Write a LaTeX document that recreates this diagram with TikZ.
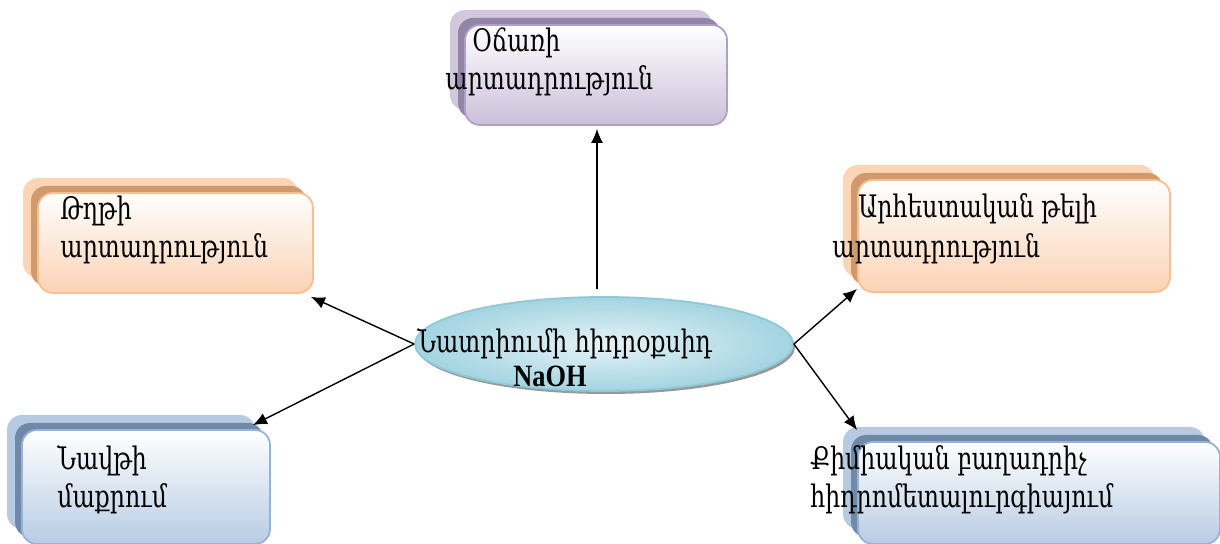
\documentclass[tikz,border=0pt]{standalone}
\usepackage{fontspec}
\setmainfont[FakeStretch=0.76]{DejaVu Serif}
\newfontfamily\formulafont[FakeStretch=0.85]{Liberation Serif}
\usetikzlibrary{shapes.geometric,shadows,arrows.meta,calc}

\definecolor{violetline}{HTML}{B1A0C6}
\definecolor{violetfill}{HTML}{CBBFDA}
\definecolor{violetback}{HTML}{D2C8DE}
\definecolor{violetdark}{HTML}{9385A5}
\definecolor{orangeline}{HTML}{F9BF8F}
\definecolor{orangefill}{HTML}{FBD3B4}
\definecolor{orangeback}{HTML}{FBD5B5}
\definecolor{orangedark}{HTML}{D09A6C}
\definecolor{blueline}{HTML}{95B3D7}
\definecolor{bluefill}{HTML}{B8CCE4}
\definecolor{blueback}{HTML}{B7CAE2}
\definecolor{bluedark}{HTML}{7189A8}
\definecolor{cyanline}{HTML}{8FCAD9}
\definecolor{cyanlight}{HTML}{E6F3F7}
\definecolor{cyandark}{HTML}{A3D4E1}

\begin{document}
\begin{tikzpicture}[x=0.5pt,y=-0.5pt,
  every node/.style={font=\fontsize{15.5}{18}\selectfont},
  box/.style={draw=#1line, line width=0.9pt, rounded corners=7.5pt,
    top color=white, bottom color=#1fill, inner sep=0pt,
    copy shadow={shadow xshift=-7.5pt, shadow yshift=7.5pt, fill=#1back, draw=none},
    copy shadow={shadow xshift=-3.5pt, shadow yshift=3.5pt, fill=#1dark, draw=none}},
  line/.style={anchor=base west, inner sep=0pt},
  link/.style={-{Latex[length=7pt,width=6pt]}, line width=0.7pt}]
\useasboundingbox (0,0) rectangle (1220,544);

\node[box=violet, minimum width=131pt, minimum height=50pt] (soap) at (596,75) {};
\node[box=orange, minimum width=137.5pt, minimum height=50pt] (paper) at (175.5,243) {};
\node[box=orange, minimum width=156pt, minimum height=56pt] (fibre) at (1014,236) {};
\node[box=blue, minimum width=124pt, minimum height=57pt] (oil) at (146,487) {};
\node[box=blue, minimum width=181pt, minimum height=51pt] (chem) at (1039,493) {};

\node[ellipse, draw=cyanline, line width=0.9pt, inner color=cyanlight, outer color=cyandark,
  minimum width=189pt, minimum height=47pt, inner sep=0pt,
  drop shadow={shadow xshift=1pt, shadow yshift=-1.5pt, fill=black!40, opacity=1}] (naoh) at (604,344) {};

\node[line] (soapA) at (472,52) {Օճառի};
\node[line] (soapB) at (445,90) {արտադրություն};
\node[line] (paperA) at (60,220) {Թղթի};
\node[line] (paperB) at (60,258) {արտադրություն};
\node[line] (fibreA) at (858,218) {Արհեստական թելի};
\node[line] (fibreB) at (832,258) {արտադրություն};
\node[line] (oilA) at (57,470) {Նավթի};
\node[line] (oilB) at (57,508) {մաքրում};
\node[line] (chemA) at (810,470) {Քիմիական բաղադրիչ};
\node[line] (chemB) at (810,508) {հիդրոմետալուրգիայում};
\node[line] (naohA) at (417,353) {Նատրիումի հիդրօքսիդ};
\node[line, font=\formulafont\bfseries\fontsize{15.5}{18}\selectfont] (naohB) at (513,387) {NaOH};

\draw[link] ($(naoh.north)+(-7,-7)$) -- ($(soap.south)+(1,3)$);
\draw[link] (naoh.west) -- ($(paper.south east)+(-3,3)$);
\draw[link] (naoh.west) -- ($(oil.north east)+(-18,-4)$);
\draw[link] (naoh.east) -- ($(fibre.south west)+(0,-4)$);
\draw[link] (naoh.east) -- ($(chem.north west)+(0,-11)$);
\end{tikzpicture}
\end{document}
